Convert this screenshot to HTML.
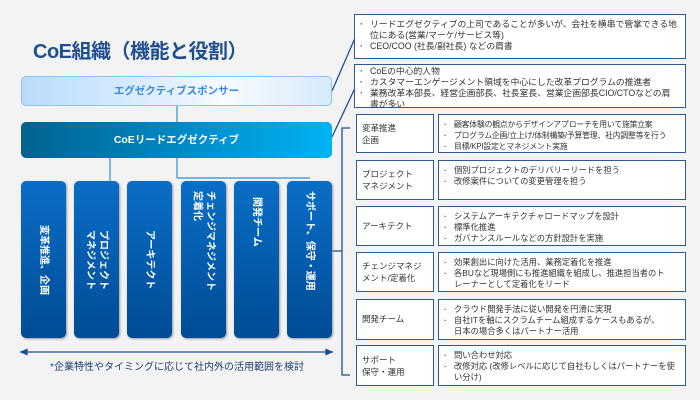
<!DOCTYPE html>
<html><head><meta charset="utf-8"><style>
*{margin:0;padding:0;box-sizing:border-box}
body{width:700px;height:400px;background:#f3f3f3;position:relative;overflow:hidden;font-family:"Liberation Sans","Noto Sans CJK JP",sans-serif}
.a{position:absolute}
.title{left:33px;top:35px;font-size:20px;font-weight:bold;color:#1f4f8f;letter-spacing:-0.5px}
.sp{left:21px;top:76px;width:311px;height:30px;border:1px solid #8ec4ee;border-radius:5px;background:linear-gradient(90deg,#b9dbfb 0%,#e4f1fd 50%,#f7fbff 65%,#d6ebfa 100%);color:#3a8ad6;font-weight:bold;font-size:10.5px;text-align:center;line-height:28px}
.ld{left:21px;top:122px;width:311px;height:36px;border-radius:5px;background:linear-gradient(90deg,#00628f,#0088c4 50%,#00b4f2);color:#fff;font-weight:bold;font-size:10.5px;text-align:center;line-height:36px}
.col{top:181px;width:45px;height:157px;border-radius:5px;background:linear-gradient(180deg,#0a6ec6,#004b95);box-shadow:1px 1px 2px #999;color:#fff;font-weight:bold;font-size:10px;writing-mode:vertical-rl;text-orientation:sideways;display:flex;align-items:center;justify-content:center;line-height:13px;white-space:nowrap}
.bx{border:1.5px solid #2e5a93;background:#fff;font-size:8.3px;color:#333;line-height:11px}
.top{font-size:8.8px;line-height:11px}
ul{list-style:none}
li{position:relative;padding-left:12px}
li:before{content:"·";position:absolute;left:2px;color:#2e5a93;font-weight:bold}
.lb{left:356px;width:78px;padding:11px 5px;font-size:8.5px;line-height:12px;white-space:nowrap}
.rb{left:438px;width:248px;padding:4px 3px}
.cap{left:0;width:354px;top:358px;text-align:center;font-size:10px;color:#1f3f70}
</style></head><body>
<div class="a title">CoE組織（機能と役割）</div>
<svg class="a" style="left:0;top:0" width="700" height="400">
<g stroke="#2e8fd6" stroke-width="1.2" fill="none">
<line x1="177" y1="106" x2="177" y2="122"/>
<line x1="110" y1="158" x2="110" y2="181"/>
<line x1="177" y1="158" x2="177" y2="178"/>
<line x1="177" y1="178" x2="310" y2="178"/>
</g>
<g stroke="#1f4f8f" stroke-width="1.3" fill="none">
<line x1="332" y1="91" x2="355" y2="38"/>
<line x1="332" y1="137" x2="355" y2="88"/>
<polyline points="350,128 342,128 342,375 350,375"/>
<line x1="332" y1="251" x2="342" y2="251"/>
<line x1="24" y1="352" x2="329" y2="352"/>
<polygon points="21,352 27,349.5 27,354.5" fill="#1f4f8f"/>
<polygon points="332,352 326,349.5 326,354.5" fill="#1f4f8f"/>
</g>
</svg>
<div class="a sp">エグゼクティブスポンサー</div>
<div class="a ld">CoEリードエグゼクティブ</div>
<div class="a col" style="left:21px">変革推進、企画</div>
<div class="a col" style="left:74px">プロジェクト<br>マネジメント</div>
<div class="a col" style="left:127px">アーキテクト</div>
<div class="a col" style="left:181px;justify-content:flex-start;padding-top:10px">チェンジマネジメント<br>定着化</div>
<div class="a col" style="left:234px;justify-content:flex-start;padding-top:16px">開発チーム</div>
<div class="a col" style="left:287px;justify-content:flex-start;padding-top:10px">サポート、保守・運用</div>
<div class="a cap">*企業特性やタイミングに応じて社内外の活用範囲を検討</div>

<div class="a bx top" style="left:354px;top:14px;width:332px;height:45px;padding:4px 8px 4px 3px"><ul><li>リードエグゼクティブの上司であることが多いが、会社を横串で管掌できる地位にある(営業/マーケ/サービス等)</li><li>CEO/COO (社長/副社長) などの肩書</li></ul></div>
<div class="a bx top" style="left:354px;top:64px;width:332px;height:44px;padding:1px 8px 1px 3px"><ul><li>CoEの中心的人物</li><li>カスタマーエンゲージメント領域を中心にした改革プログラムの推進者</li><li>業務改革本部長、経営企画部長、社長室長、営業企画部長CIO/CTOなどの肩書が多い</li></ul></div>

<div class="a bx lb" style="top:114px;height:39px;padding-top:7px">変革推進<br>企画</div>
<div class="a bx rb" style="top:114px;height:39px;font-size:7.8px;letter-spacing:-0.15px;padding-right:1px"><ul><li>顧客体験の観点からデザインアプローチを用いて施策立案</li><li>プログラム企画/立上げ/体制構築/予算管理、社内調整等を行う</li><li>目標/KPI設定とマネジメント実施</li></ul></div>

<div class="a bx lb" style="top:160px;height:40px;padding-top:7px">プロジェクト<br>マネジメント</div>
<div class="a bx rb" style="top:160px;height:40px"><ul><li>個別プロジェクトのデリバリーリードを担う</li><li>改修案件についての変更管理を担う</li></ul></div>

<div class="a bx lb" style="top:206px;height:40px;padding-top:13px">アーキテクト</div>
<div class="a bx rb" style="top:206px;height:40px"><ul><li>システムアーキテクチャロードマップを設計</li><li>標準化推進</li><li>ガバナンスルールなどの方針設計を実施</li></ul></div>

<div class="a bx lb" style="top:252px;height:40px;padding-top:7px">チェンジマネジ<br>メント/定着化</div>
<div class="a bx rb" style="top:252px;height:40px;padding-right:14px"><ul><li>効果創出に向けた活用、業務定着化を推進</li><li>各BUなど現場側にも推進組織を組成し、推進担当者のトレーナーとして定着化をリード</li></ul></div>

<div class="a bx lb" style="top:299px;height:41px;padding-top:13px">開発チーム</div>
<div class="a bx rb" style="top:299px;height:41px;padding-right:20px"><ul><li>クラウド開発手法に従い開発を円滑に実現</li><li>自社ITを軸にスクラムチーム組成するケースもあるが、日本の場合多くはパートナー活用</li></ul></div>

<div class="a bx lb" style="top:345px;height:41px;padding-top:8px">サポート<br>保守・運用</div>
<div class="a bx rb" style="top:345px;height:41px;padding-right:10px"><ul><li>問い合わせ対応</li><li>改修対応 (改修レベルに応じて自社もしくはパートナーを使い分け)</li></ul></div>
</body></html>
